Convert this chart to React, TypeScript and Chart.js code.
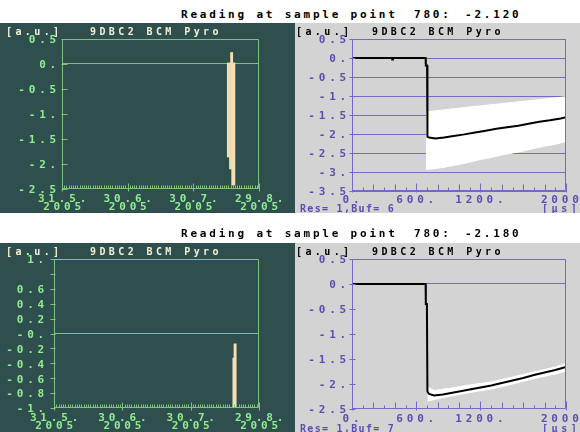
import React, { useEffect, useRef } from "react";
import { Chart, registerables } from "chart.js";
Chart.register(...registerables);

// ---------------- data ----------------
const readingLabel = "Reading at sample point";
const samplePoint = "780:";
const readings = ["-2.120", "-2.180"];
const panelTitle = "9DBC2 BCM Pyro";
const unitY = "[a.u.]";
const unitX = "[µs]";
const bufferLabels = ["Res= 1,Buf= 6", "Res= 1,Buf= 7"];

// archive (left) panels: days after 31.5.2005
const dateTickDays = [0, 30, 60, 90];
const dateTickLabels = [
  ["31.5.", "2005"],
  ["30.6.", "2005"],
  ["30.7.", "2005"],
  ["29.8.", "2005"],
];

const histTopDays = [75.75, 76.25, 76.75, 77.25, 77.75, 78.25, 78.75];
const histTopMin = [-1.86, -1.86, -2.1, -2.1, -2.42, -2.42, -2.42];
const histTopMax = [0.02, 0.02, 0.02, 0.23, 0.23, 0.02, 0.02];

const histBotDays = [78.75, 79.25, 79.75];
const histBotMin = [-2.2, -2.2, -2.2];
const histBotMax = [-0.33, -0.14, -0.14];

const histTopYTicks = [0.5, 0, -0.5, -1, -1.5, -2, -2.5];
const histTopYLabels = ["0.5", "0.", "-0.5", "-1.", "-1.5", "-2.", "-2.5"];
const histBotYTicks = [1, 0.8, 0.6, 0.4, 0.2, 0, -0.2, -0.4, -0.6, -0.8, -1];
const histBotYLabels = ["1.", "", "0.6", "0.4", "0.2", "-0.", "-0.2", "-0.4", "-0.6", "-0.8", "-1."];

// trace (right) panels: time in µs
const traceXTicks = [0, 600, 1200, 2000];
const traceXLabels = ["0.", "600.", "1200.", "2000"];
const traceTopYTicks = [0.5, 0, -0.5, -1, -1.5, -2, -2.5, -3, -3.5];
const traceTopYLabels = ["0.5", "0.", "-0.5", "-1.", "-1.5", "-2.", "-2.5", "-3.", "-3.5"];
const traceBotYTicks = [0.5, 0, -0.5, -1, -1.5, -2, -2.5];
const traceBotYLabels = ["0.5", "0.", "-0.5", "-1.", "-1.5", "-2.", "-2.5"];

// buffer 6
const traceTopTime = [0, 372, 376, 382, 688, 690, 702, 705, 720, 780, 860, 950, 1050, 1150, 1236, 1350, 1450, 1554, 1650, 1750, 1850, 1950, 2000];
const traceTopValue = [0, 0, -0.04, 0, 0, -0.2, -0.2, -2.07, -2.09, -2.12, -2.09, -2.05, -2.01, -1.96, -1.92, -1.86, -1.82, -1.78, -1.73, -1.68, -1.64, -1.59, -1.56];
const envTopTime = [690, 750, 850, 1000, 1100, 1200, 1300, 1400, 1500, 1600, 1700, 1800, 1900, 2000];
const envTopUpper = [-1.42, -1.4, -1.37, -1.32, -1.29, -1.26, -1.23, -1.2, -1.17, -1.14, -1.11, -1.08, -1.05, -1.02];
const envTopLower = [-2.93, -2.92, -2.88, -2.8, -2.74, -2.67, -2.62, -2.55, -2.5, -2.45, -2.38, -2.32, -2.27, -2.2];

// buffer 7
const traceBotTime = [0, 688, 690, 700, 705, 720, 767, 850, 950, 1050, 1150, 1302, 1400, 1500, 1600, 1700, 1800, 1900, 2000];
const traceBotValue = [0, 0, -0.4, -0.4, -2.15, -2.2, -2.23, -2.21, -2.17, -2.13, -2.09, -2.03, -1.98, -1.93, -1.88, -1.82, -1.77, -1.72, -1.66];
const envBotTime = [705, 767, 900, 1100, 1302, 1500, 1700, 1900, 2000];
const envBotUpper = [-2.06, -2.13, -2.09, -2.02, -1.96, -1.86, -1.76, -1.66, -1.59];
const envBotLower = [-2.34, -2.31, -2.25, -2.17, -2.1, -2.0, -1.89, -1.8, -1.74];

// ---------------- styles ----------------
const MONO = '"DejaVu Sans Mono", monospace';
const DARK_BG = "#2f4f4f";
const GRAY_BG = "#d3d3d3";
const GREEN_LINE = "#7cc47c";
const GREEN_TEXT = "#90ee90";
const WHEAT = "#f5deb3";
const TITLE_LIGHT = "#f3efd2";
const PURPLE_LINE = "#7468c8";
const PURPLE_TEXT = "#5a4fb0";
const TICK_FONT = { family: MONO, weight: "bold" as const, size: 11, lineHeight: 0.75 };
const TICK_SPACING = "3.8px";

const spacingPlugin = (px: string) => ({
  id: "spacing",
  beforeUpdate(chart: any) {
    chart.ctx.letterSpacing = px;
  },
  beforeDraw(chart: any) {
    chart.ctx.letterSpacing = px;
  },
});

const framePlugin = (o: {
  color: string;
  minorStep: number;
  minorLen: (v: number) => number;
  majorUp: number;
  majorDown: number;
  yIn: number;
  yOut: number;
}) => ({
  id: "frame",
  afterDatasetsDraw(chart: any) {
    const { ctx, chartArea: a, scales } = chart;
    const x = scales.x;
    const y = scales.y;
    const L = Math.round(a.left) + 0.5;
    const R = Math.round(a.right) - 0.5;
    const T = Math.round(a.top) + 0.5;
    const B = Math.round(a.bottom) - 0.5;
    ctx.save();
    ctx.strokeStyle = o.color;
    ctx.lineWidth = 1;
    ctx.beginPath();
    ctx.moveTo(L, T);
    ctx.lineTo(R, T);
    ctx.lineTo(R, B);
    ctx.lineTo(L, B);
    ctx.closePath();
    for (let v = x.min; v <= x.max + 1e-9; v += o.minorStep) {
      const px = Math.round(x.getPixelForValue(v)) + 0.5;
      ctx.moveTo(px, B);
      ctx.lineTo(px, B - o.minorLen(v));
    }
    for (const t of x.ticks) {
      const px = Math.round(x.getPixelForValue(t.value)) + 0.5;
      ctx.moveTo(px, B + o.majorDown);
      ctx.lineTo(px, B - o.majorUp);
    }
    for (const t of y.ticks) {
      const py = Math.round(y.getPixelForValue(t.value)) + 0.5;
      ctx.moveTo(L - o.yOut, py);
      ctx.lineTo(L + o.yIn, py);
    }
    ctx.stroke();
    ctx.restore();
  },
});

type Box = { left: number; right: number; top: number; bottom: number; w: number; h: number };

function histConfig(p: Box & {
  days: number[];
  mins: number[];
  maxs: number[];
  yTicks: number[];
  yLabels: string[];
  yMin: number;
  yMax: number;
  xPad: number;
  yPad: number;
  yIn: number;
  yOut: number;
}): any {
  return {
    type: "bar",
    data: {
      datasets: [
        {
          data: p.days.map((d, i) => ({ x: d, y: [p.mins[i], p.maxs[i]] })),
          backgroundColor: WHEAT,
          borderWidth: 0,
          barPercentage: 1,
          categoryPercentage: 1,
        },
      ],
    },
    options: {
      responsive: false,
      animation: false,
      events: [],
      layout: { padding: { top: p.top, right: p.w - p.right, left: 0, bottom: 0 } },
      plugins: { legend: { display: false }, tooltip: { enabled: false } },
      scales: {
        x: {
          type: "linear",
          min: 0,
          max: 90,
          offset: false,
          afterBuildTicks: (s: any) => {
            s.ticks = dateTickDays.map((v) => ({ value: v }));
          },
          afterFit: (s: any) => {
            s.height = p.h - p.bottom;
            s.paddingLeft = 0;
            s.paddingRight = 0;
          },
          grid: { display: false, drawTicks: false },
          border: { display: false },
          ticks: {
            autoSkip: false,
            maxRotation: 0,
            padding: p.xPad,
            labelOffset: 2,
            color: GREEN_TEXT,
            font: TICK_FONT,
            callback: (_v: any, i: number) => dateTickLabels[i],
          },
        },
        y: {
          type: "linear",
          min: p.yMin,
          max: p.yMax,
          afterBuildTicks: (s: any) => {
            s.ticks = p.yTicks.map((v) => ({ value: v }));
          },
          afterFit: (s: any) => {
            s.width = p.left;
            s.paddingTop = 0;
            s.paddingBottom = 0;
          },
          grid: {
            drawTicks: false,
            lineWidth: 1,
            color: (c: any) => (c.tick && c.tick.value === 0 ? GREEN_LINE : "rgba(0,0,0,0)"),
          },
          border: { display: false },
          ticks: {
            autoSkip: false,
            padding: p.yPad,
            labelOffset: 1.5,
            color: GREEN_TEXT,
            font: TICK_FONT,
            callback: (_v: any, i: number) => p.yLabels[i],
          },
        },
      },
    },
    plugins: [
      spacingPlugin(TICK_SPACING),
      framePlugin({
        color: GREEN_LINE,
        minorStep: 1,
        minorLen: () => 3,
        majorUp: 5,
        majorDown: 3,
        yIn: p.yIn,
        yOut: p.yOut,
      }),
    ],
  };
}

function traceConfig(p: Box & {
  time: number[];
  value: number[];
  envTime: number[];
  envUpper: number[];
  envLower: number[];
  yTicks: number[];
  yLabels: string[];
  yMin: number;
  yMax: number;
  allGrid: boolean;
  xPad: number;
}): any {
  return {
    type: "line",
    data: {
      datasets: [
        {
          data: p.time.map((t, i) => ({ x: t, y: p.value[i] })),
          borderColor: "#000",
          borderWidth: 2,
          pointRadius: 0,
          tension: 0,
          fill: false,
        },
        {
          data: p.envTime.map((t, i) => ({ x: t, y: p.envLower[i] })),
          borderColor: "#fff",
          borderWidth: 1,
          pointRadius: 0,
          tension: 0,
          fill: false,
        },
        {
          data: p.envTime.map((t, i) => ({ x: t, y: p.envUpper[i] })),
          borderColor: "#fff",
          backgroundColor: "#fff",
          borderWidth: 1,
          pointRadius: 0,
          tension: 0,
          fill: "-1",
        },
      ],
    },
    options: {
      responsive: false,
      animation: false,
      events: [],
      layout: { padding: { top: p.top, right: p.w - p.right, left: 0, bottom: 0 } },
      plugins: { legend: { display: false }, tooltip: { enabled: false } },
      scales: {
        x: {
          type: "linear",
          min: 0,
          max: 2000,
          afterBuildTicks: (s: any) => {
            s.ticks = traceXTicks.map((v) => ({ value: v }));
          },
          afterFit: (s: any) => {
            s.height = p.h - p.bottom;
            s.paddingLeft = 0;
            s.paddingRight = 0;
          },
          grid: { display: false, drawTicks: false },
          border: { display: false },
          ticks: {
            autoSkip: false,
            maxRotation: 0,
            padding: p.xPad,
            labelOffset: 1,
            color: PURPLE_TEXT,
            font: TICK_FONT,
            callback: (_v: any, i: number) =>
              i === traceXLabels.length - 1 ? traceXLabels[i] + " " : traceXLabels[i],
          },
        },
        y: {
          type: "linear",
          min: p.yMin,
          max: p.yMax,
          afterBuildTicks: (s: any) => {
            s.ticks = p.yTicks.map((v) => ({ value: v }));
          },
          afterFit: (s: any) => {
            s.width = p.left;
            s.paddingTop = 0;
            s.paddingBottom = 0;
          },
          grid: {
            drawTicks: false,
            lineWidth: 1,
            color: (c: any) =>
              c.tick && (p.allGrid || c.tick.value === 0) ? PURPLE_LINE : "rgba(0,0,0,0)",
          },
          border: { display: false },
          ticks: {
            autoSkip: false,
            padding: 2,
            labelOffset: 1.5,
            color: PURPLE_TEXT,
            font: TICK_FONT,
            callback: (_v: any, i: number) => p.yLabels[i],
          },
        },
      },
    },
    plugins: [
      spacingPlugin(TICK_SPACING),
      framePlugin({
        color: PURPLE_LINE,
        minorStep: 100,
        minorLen: (v) => (Math.round(v) % 200 === 0 ? 6 : 3),
        majorUp: 7,
        majorDown: 2,
        yIn: 3,
        yOut: 3,
      }),
    ],
  };
}

const textStyle = (size: number, spacing: number, color: string): React.CSSProperties => ({
  position: "absolute",
  fontFamily: MONO,
  fontWeight: "bold",
  fontSize: size,
  lineHeight: `${size}px`,
  letterSpacing: `${spacing}px`,
  color,
  whiteSpace: "pre",
});

function Panel(props: {
  x: number;
  y: number;
  w: number;
  h: number;
  bg: string;
  make: () => any;
  children?: React.ReactNode;
}) {
  const ref = useRef<HTMLCanvasElement>(null);
  useEffect(() => {
    const chart = new Chart(ref.current as HTMLCanvasElement, props.make());
    return () => chart.destroy();
  }, []);
  return (
    <div
      style={{
        position: "absolute",
        left: props.x,
        top: props.y,
        width: props.w,
        height: props.h,
        background: props.bg,
        overflow: "hidden",
      }}
    >
      <canvas
        ref={ref}
        width={props.w}
        height={props.h}
        style={{ position: "absolute", left: 0, top: 0, display: "block" }}
      />
      {props.children}
    </div>
  );
}

function Header({ y, value }: { y: number; value: string }) {
  const s = textStyle(11, 2.8, "#000");
  return (
    <>
      <div style={{ ...s, left: 181, top: y }}>{readingLabel}</div>
      <div style={{ ...s, left: 414, top: y }}>{samplePoint}</div>
      <div style={{ ...s, left: 465, top: y }}>{value}</div>
    </>
  );
}

function Titles({ dark }: { dark: boolean }) {
  const c = dark ? TITLE_LIGHT : "#000";
  const s = textStyle(10, 3.4, c);
  return (
    <>
      <div style={{ ...s, left: dark ? 6 : 1, top: 4 }}>{unitY}</div>
      <div style={{ ...s, left: dark ? 90 : 77, top: 4 }}>{panelTitle}</div>
    </>
  );
}

function XFooter({ buf }: { buf: string }) {
  return (
    <>
      <div style={{ ...textStyle(10, 1.3, PURPLE_TEXT), left: 5, top: 181 }}>{buf}</div>
      <div style={{ ...textStyle(10, 3.6, PURPLE_TEXT), left: 247, top: 181 }}>{unitX}</div>
    </>
  );
}

export default function App() {
  return (
    <div
      style={{
        position: "fixed",
        left: 0,
        top: 0,
        width: 580,
        height: 432,
        background: "#fff",
        overflow: "hidden",
      }}
    >
      <Header y={9} value={readings[0]} />
      <Panel
        x={0}
        y={23}
        w={295}
        h={190}
        bg={DARK_BG}
        make={() =>
          histConfig({
            left: 62,
            right: 259,
            top: 16,
            bottom: 166,
            w: 295,
            h: 190,
            days: histTopDays,
            mins: histTopMin,
            maxs: histTopMax,
            yTicks: histTopYTicks,
            yLabels: histTopYLabels,
            yMin: -2.5,
            yMax: 0.5,
            xPad: 6,
            yPad: 2,
            yIn: 5,
            yOut: 1,
          })
        }
      >
        <Titles dark={true} />
      </Panel>
      <Panel
        x={295}
        y={23}
        w={285}
        h={190}
        bg={GRAY_BG}
        make={() =>
          traceConfig({
            left: 57,
            right: 271,
            top: 16,
            bottom: 168,
            w: 285,
            h: 190,
            time: traceTopTime,
            value: traceTopValue,
            envTime: envTopTime,
            envUpper: envTopUpper,
            envLower: envTopLower,
            yTicks: traceTopYTicks,
            yLabels: traceTopYLabels,
            yMin: -3.5,
            yMax: 0.5,
            allGrid: true,
            xPad: 5,
          })
        }
      >
        <Titles dark={false} />
        <XFooter buf={bufferLabels[0]} />
      </Panel>

      <Header y={228} value={readings[1]} />
      <Panel
        x={0}
        y={243}
        w={295}
        h={189}
        bg={DARK_BG}
        make={() =>
          histConfig({
            left: 54,
            right: 259,
            top: 16,
            bottom: 165,
            w: 295,
            h: 189,
            days: histBotDays,
            mins: histBotMin,
            maxs: histBotMax,
            yTicks: histBotYTicks,
            yLabels: histBotYLabels,
            yMin: -1,
            yMax: 1,
            xPad: 6,
            yPad: 6,
            yIn: 1,
            yOut: 4,
          })
        }
      >
        <Titles dark={true} />
      </Panel>
      <Panel
        x={295}
        y={243}
        w={285}
        h={189}
        bg={GRAY_BG}
        make={() =>
          traceConfig({
            left: 57,
            right: 271,
            top: 16,
            bottom: 166,
            w: 285,
            h: 189,
            time: traceBotTime,
            value: traceBotValue,
            envTime: envBotTime,
            envUpper: envBotUpper,
            envLower: envBotLower,
            yTicks: traceBotYTicks,
            yLabels: traceBotYLabels,
            yMin: -2.5,
            yMax: 0.5,
            allGrid: false,
            xPad: 6,
          })
        }
      >
        <Titles dark={false} />
        <XFooter buf={bufferLabels[1]} />
      </Panel>
    </div>
  );
}
